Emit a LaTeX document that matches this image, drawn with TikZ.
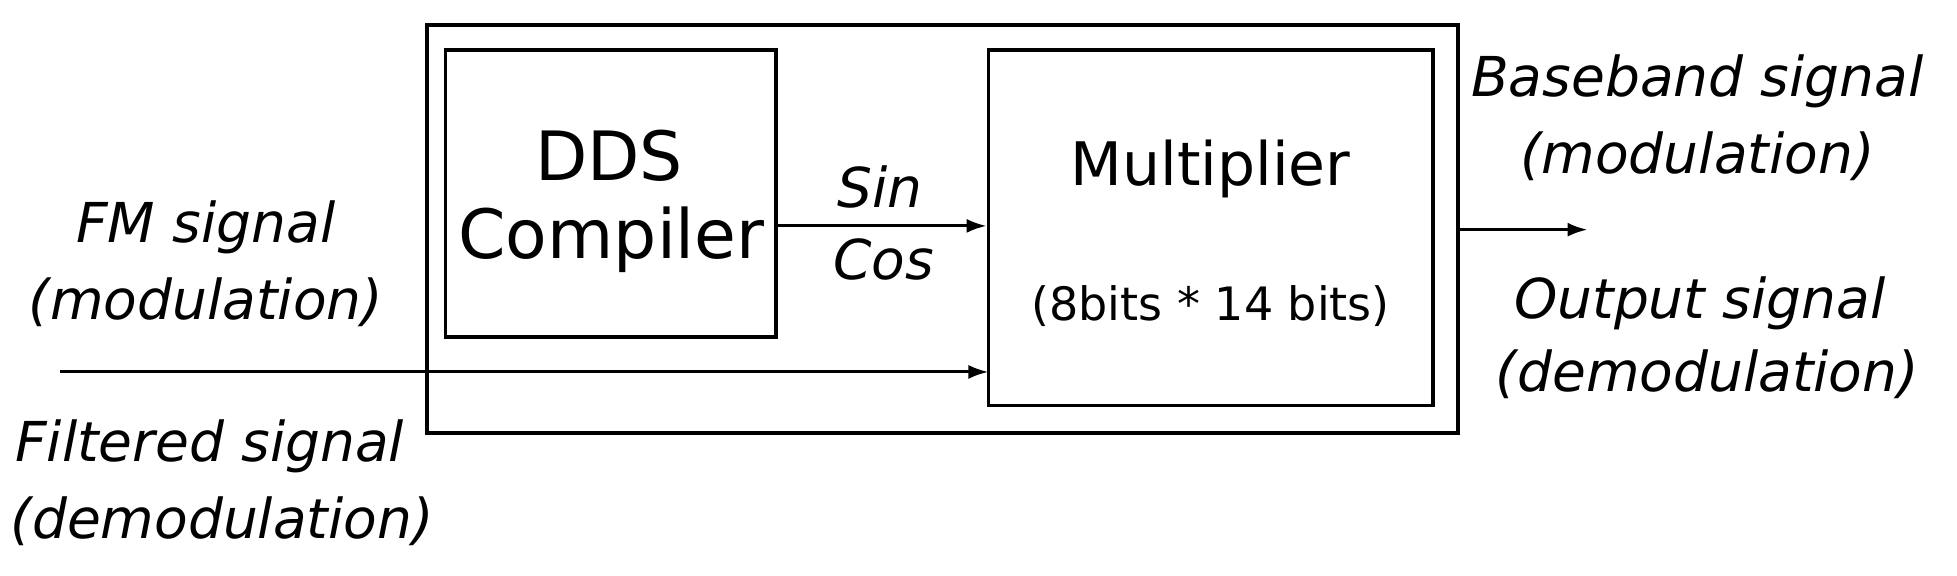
\documentclass[tikz,border=0pt]{standalone}
\usepackage{fontspec}
\setmainfont{DejaVu Sans}
\usetikzlibrary{arrows.meta}
\begin{document}
\begin{tikzpicture}[x=1.248pt,y=-1.248pt,
  box/.style={draw,line width=3.7pt},
  arr/.style={line width=3pt,-{Latex[length=20pt,width=14pt]}},
  big/.style={font=\fontsize{68}{80}\selectfont},
  mid/.style={font=\fontsize{60}{70}\selectfont},
  lab/.style={font=\fontsize{55}{70}\selectfont\itshape},
  small/.style={font=\fontsize{46}{52}\selectfont}]
\useasboundingbox (0,0) rectangle (1568,461);
\draw[box] (342,20) rectangle (1168,347);
\node[box,minimum width=265*1.248pt,minimum height=230*1.248pt,inner sep=0] (dds) at (489.5,155) {};
\node[box,minimum width=356*1.248pt,minimum height=285*1.248pt,inner sep=0] (mul) at (970,182.5) {};
\node[big] (t1) at (488,125) {DDS};
\node[big] (t2) at (490,192) {Compiler};
\node[mid] (t3) at (970,135) {Multiplier};
\node[small] (t4) at (970,245) {(8bits * 14 bits)};
\node[lab] (sin) at (705,150) {Sin};
\node[lab] (cos) at (708,208) {Cos};
\node[lab] (fm1) at (165,182) {FM signal};
\node[lab] (fm2) at (165,242) {(modulation)};
\node[lab] (fi1) at (168,358) {Filtered signal};
\node[lab] (fi2) at (178,418) {(demodulation)};
\node[lab] (b1) at (1360,65) {Baseband signal};
\node[lab] (b2) at (1360,125) {(modulation)};
\node[lab] (o1) at (1362,243) {Output signal};
\node[lab] (o2) at (1368,300) {(demodulation)};
\coordinate (in) at (48,298);
\coordinate (inE) at (792,298);
\coordinate (outS) at (1168,184);
\coordinate (outE) at (1272,184);
\draw[arr] (dds.east |- 0,181) -- (mul.west |- 0,181);
\draw[arr] (in) -- (inE);
\draw[arr] (outS) -- (outE);
\end{tikzpicture}
\end{document}
